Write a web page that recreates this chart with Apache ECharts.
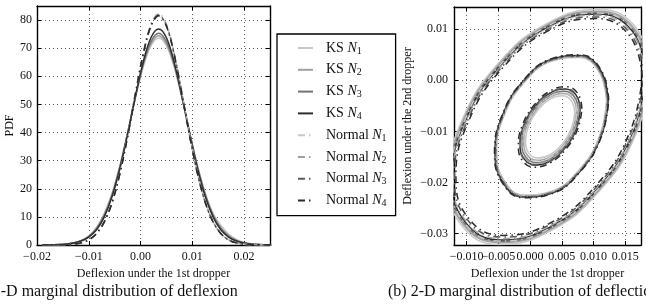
<!DOCTYPE html>
<html><head><meta charset="utf-8">
<script src="https://cdn.jsdelivr.net/npm/echarts@6/dist/echarts.min.js"></script>
<style>html,body{margin:0;padding:0;background:#fff}#c{width:646px;height:305px}</style>
</head><body><div id="c"></div>
<script>
// ---------- (a) 1-D PDF data ----------
const pdfX = [-0.019, -0.0175, -0.016, -0.0145, -0.013, -0.0115, -0.010, -0.0085, -0.007, -0.0055, -0.004, -0.0025, -0.001, 0.0005, 0.002, 0.0035, 0.005, 0.0065, 0.008, 0.0095, 0.011, 0.0125, 0.014, 0.0155, 0.017, 0.0185, 0.020, 0.0215, 0.023, 0.0245, 0.026];
const ksN1Pdf = [0, 0.05, 0.1, 0.3, 0.7, 1.6, 3.3, 6.3, 11.3, 18.5, 28.3, 39.9, 52.1, 63.2, 70.8, 73.6, 70.8, 63.2, 52.1, 39.9, 28.3, 18.5, 11.3, 7.0, 3.9, 2.0, 0.9, 0.4, 0.15, 0.05, 0];
const ksN2Pdf = [0, 0.05, 0.12, 0.3, 0.7, 1.5, 3.1, 6.0, 10.9, 18.1, 27.9, 39.8, 52.5, 63.8, 71.5, 74.4, 71.5, 63.8, 52.5, 39.8, 27.9, 18.1, 10.9, 6.2, 3.4, 1.7, 0.8, 0.35, 0.12, 0.05, 0];
const ksN3Pdf = [0, 0.05, 0.13, 0.3, 0.7, 1.45, 3.0, 5.7, 10.5, 17.7, 27.6, 39.7, 52.7, 64.3, 72.3, 75.3, 72.3, 64.3, 52.7, 39.7, 27.6, 17.7, 10.5, 5.8, 3.1, 1.5, 0.7, 0.3, 0.13, 0.05, 0];
const ksN4Pdf = [0, 0.05, 0.15, 0.3, 0.7, 1.4, 2.8, 5.4, 10.0, 17.2, 27.1, 39.5, 52.8, 65.0, 73.7, 76.8, 73.7, 65.0, 52.8, 39.5, 27.1, 17.2, 10.0, 5.4, 2.8, 1.4, 0.7, 0.3, 0.15, 0.05, 0];
const normN1Pdf = [0, 0.01, 0.03, 0.1, 0.29, 0.76, 1.86, 4.1, 8.3, 15.2, 25.5, 38.9, 54.0, 68.2, 78.5, 82.3, 78.5, 68.2, 54.0, 38.9, 25.5, 15.2, 8.3, 4.1, 1.86, 0.76, 0.29, 0.1, 0.03, 0.01, 0];
const normN2Pdf = [0, 0.01, 0.03, 0.1, 0.28, 0.76, 1.85, 4.1, 8.3, 15.2, 25.4, 38.8, 53.8, 68.0, 78.2, 82.0, 78.2, 68.0, 53.8, 38.8, 25.4, 15.2, 8.3, 4.1, 1.85, 0.76, 0.28, 0.1, 0.03, 0.01, 0];
const normN3Pdf = [0, 0.01, 0.03, 0.1, 0.28, 0.76, 1.85, 4.1, 8.3, 15.1, 25.4, 38.7, 53.7, 67.8, 78.0, 81.8, 78.0, 67.8, 53.7, 38.7, 25.4, 15.1, 8.3, 4.1, 1.85, 0.76, 0.28, 0.1, 0.03, 0.01, 0];
const normN4Pdf = [0, 0.01, 0.03, 0.1, 0.28, 0.75, 1.8, 4.1, 8.2, 15.1, 25.3, 38.5, 53.5, 67.6, 77.8, 81.5, 77.8, 67.6, 53.5, 38.5, 25.3, 15.1, 8.2, 4.1, 1.8, 0.75, 0.28, 0.1, 0.03, 0.01, 0];

// ---------- (b) 2-D contour data (x = 1st dropper, y = 2nd dropper) ----------
const ksN1OuterX = [0.01891, 0.01678, 0.01096, 0.00300, -0.00496, -0.01078, -0.01291, -0.01078, -0.00496, 0.00300, 0.01096, 0.01678];
const ksN1OuterY = [0.00132, 0.01014, 0.01380, 0.01131, 0.00334, -0.00799, -0.01960, -0.02842, -0.03208, -0.02959, -0.02162, -0.01029];
const ksN2OuterX = [0.01868, 0.01658, 0.01084, 0.00300, -0.00484, -0.01058, -0.01268, -0.01058, -0.00484, 0.00300, 0.01084, 0.01658];
const ksN2OuterY = [0.00117, 0.00986, 0.01347, 0.01101, 0.00316, -0.00800, -0.01945, -0.02814, -0.03175, -0.02929, -0.02144, -0.01028];
const ksN3OuterX = [0.01848, 0.01641, 0.01074, 0.00300, -0.00474, -0.01041, -0.01248, -0.01041, -0.00474, 0.00300, 0.01074, 0.01641];
const ksN3OuterY = [0.00104, 0.00962, 0.01318, 0.01076, 0.00300, -0.00802, -0.01932, -0.02790, -0.03146, -0.02904, -0.02128, -0.01026];
const ksN4OuterX = [0.01830, 0.01625, 0.01065, 0.00300, -0.00465, -0.01025, -0.01230, -0.01025, -0.00465, 0.00300, 0.01065, 0.01625];
const ksN4OuterY = [0.00092, 0.00940, 0.01292, 0.01052, 0.00286, -0.00803, -0.01920, -0.02768, -0.03120, -0.02880, -0.02114, -0.01025];
const normN1OuterX = [0.01845, 0.01638, 0.01073, 0.00300, -0.00473, -0.01038, -0.01245, -0.01038, -0.00473, 0.00300, 0.01073, 0.01638];
const normN1OuterY = [0.00102, 0.00959, 0.01314, 0.01072, 0.00298, -0.00802, -0.01930, -0.02787, -0.03142, -0.02900, -0.02126, -0.01026];
const normN2OuterX = [0.01815, 0.01612, 0.01057, 0.00300, -0.00457, -0.01012, -0.01215, -0.01012, -0.00457, 0.00300, 0.01057, 0.01612];
const normN2OuterY = [0.00082, 0.00921, 0.01270, 0.01032, 0.00274, -0.00804, -0.01910, -0.02749, -0.03098, -0.02860, -0.02102, -0.01024];
const normN3OuterX = [0.01792, 0.01592, 0.01046, 0.00300, -0.00446, -0.00992, -0.01192, -0.00992, -0.00446, 0.00300, 0.01046, 0.01592];
const normN3OuterY = [0.00067, 0.00894, 0.01237, 0.01003, 0.00256, -0.00806, -0.01895, -0.02722, -0.03065, -0.02831, -0.02084, -0.01022];
const normN4OuterX = [0.01769, 0.01572, 0.01034, 0.00300, -0.00434, -0.00972, -0.01169, -0.00972, -0.00434, 0.00300, 0.01034, 0.01572];
const normN4OuterY = [0.00052, 0.00866, 0.01204, 0.00973, 0.00238, -0.00807, -0.01880, -0.02694, -0.03032, -0.02801, -0.02066, -0.01021];

const ksN1MidX = [0.01205, 0.01090, 0.00773, 0.00340, -0.00093, -0.00410, -0.00525, -0.00410, -0.00093, 0.00340, 0.00773, 0.01090];
const ksN1MidY = [-0.00414, 0.00157, 0.00443, 0.00369, -0.00044, -0.00687, -0.01386, -0.01957, -0.02243, -0.02169, -0.01756, -0.01113];
const ksN2MidX = [0.01214, 0.01097, 0.00778, 0.00340, -0.00098, -0.00417, -0.00534, -0.00417, -0.00098, 0.00340, 0.00778, 0.01097];
const ksN2MidY = [-0.00409, 0.00168, 0.00456, 0.00382, -0.00036, -0.00685, -0.01391, -0.01968, -0.02256, -0.02182, -0.01764, -0.01115];
const ksN3MidX = [0.01223, 0.01105, 0.00782, 0.00340, -0.00102, -0.00425, -0.00543, -0.00425, -0.00102, 0.00340, 0.00782, 0.01105];
const ksN3MidY = [-0.00404, 0.00179, 0.00470, 0.00395, -0.00027, -0.00683, -0.01396, -0.01979, -0.02270, -0.02195, -0.01773, -0.01117];
const ksN4MidX = [0.01232, 0.01113, 0.00786, 0.00340, -0.00106, -0.00433, -0.00552, -0.00433, -0.00106, 0.00340, 0.00786, 0.01113];
const ksN4MidY = [-0.00399, 0.00190, 0.00484, 0.00408, -0.00018, -0.00681, -0.01401, -0.01990, -0.02284, -0.02208, -0.01782, -0.01119];
const normN1MidX = [0.01210, 0.01094, 0.00775, 0.00340, -0.00095, -0.00414, -0.00530, -0.00414, -0.00095, 0.00340, 0.00775, 0.01094];
const normN1MidY = [-0.00411, 0.00163, 0.00449, 0.00376, -0.00040, -0.00686, -0.01389, -0.01963, -0.02249, -0.02176, -0.01760, -0.01114];
const normN2MidX = [0.01219, 0.01101, 0.00780, 0.00340, -0.00100, -0.00421, -0.00539, -0.00421, -0.00100, 0.00340, 0.00780, 0.01101];
const normN2MidY = [-0.00406, 0.00174, 0.00463, 0.00389, -0.00031, -0.00684, -0.01394, -0.01974, -0.02263, -0.02189, -0.01769, -0.01116];
const normN3MidX = [0.01227, 0.01109, 0.00784, 0.00340, -0.00104, -0.00429, -0.00547, -0.00429, -0.00104, 0.00340, 0.00784, 0.01109];
const normN3MidY = [-0.00402, 0.00184, 0.00477, 0.00401, -0.00023, -0.00682, -0.01398, -0.01984, -0.02277, -0.02201, -0.01777, -0.01118];
const normN4MidX = [0.01241, 0.01120, 0.00791, 0.00340, -0.00111, -0.00440, -0.00561, -0.00440, -0.00111, 0.00340, 0.00791, 0.01120];
const normN4MidY = [-0.00394, 0.00201, 0.00497, 0.00421, -0.00010, -0.00679, -0.01406, -0.02001, -0.02297, -0.02221, -0.01790, -0.01121];

const ksN1InnerX = [0.00704, 0.00652, 0.00510, 0.00316, 0.00122, -0.00020, -0.00072, -0.00020, 0.00122, 0.00316, 0.00510, 0.00652];
const ksN1InnerY = [-0.00637, -0.00403, -0.00306, -0.00371, -0.00583, -0.00882, -0.01191, -0.01425, -0.01522, -0.01457, -0.01245, -0.00946];
const ksN2InnerX = [0.00732, 0.00677, 0.00525, 0.00316, 0.00107, -0.00045, -0.00100, -0.00045, 0.00107, 0.00316, 0.00525, 0.00677];
const ksN2InnerY = [-0.00617, -0.00366, -0.00262, -0.00331, -0.00558, -0.00880, -0.01211, -0.01462, -0.01566, -0.01497, -0.01270, -0.00948];
const ksN3InnerX = [0.00761, 0.00701, 0.00539, 0.00316, 0.00093, -0.00069, -0.00129, -0.00069, 0.00093, 0.00316, 0.00539, 0.00701];
const ksN3InnerY = [-0.00596, -0.00328, -0.00217, -0.00292, -0.00534, -0.00877, -0.01232, -0.01500, -0.01611, -0.01536, -0.01294, -0.00951];
const ksN4InnerX = [0.00789, 0.00726, 0.00553, 0.00316, 0.00079, -0.00094, -0.00157, -0.00094, 0.00079, 0.00316, 0.00553, 0.00726];
const ksN4InnerY = [-0.00576, -0.00291, -0.00173, -0.00252, -0.00510, -0.00875, -0.01252, -0.01537, -0.01655, -0.01576, -0.01318, -0.00953];
const normN1InnerX = [0.00742, 0.00685, 0.00529, 0.00316, 0.00103, -0.00053, -0.00110, -0.00053, 0.00103, 0.00316, 0.00529, 0.00685];
const normN1InnerY = [-0.00610, -0.00353, -0.00247, -0.00318, -0.00550, -0.00879, -0.01218, -0.01475, -0.01581, -0.01510, -0.01278, -0.00949];
const normN2InnerX = [0.00770, 0.00710, 0.00544, 0.00316, 0.00088, -0.00078, -0.00138, -0.00078, 0.00088, 0.00316, 0.00544, 0.00710];
const normN2InnerY = [-0.00590, -0.00316, -0.00203, -0.00278, -0.00526, -0.00877, -0.01238, -0.01512, -0.01625, -0.01550, -0.01302, -0.00951];
const normN3InnerX = [0.00794, 0.00730, 0.00555, 0.00316, 0.00077, -0.00098, -0.00162, -0.00098, 0.00077, 0.00316, 0.00555, 0.00730];
const normN3InnerY = [-0.00573, -0.00285, -0.00166, -0.00245, -0.00506, -0.00875, -0.01255, -0.01543, -0.01662, -0.01583, -0.01322, -0.00953];
const normN4InnerX = [0.00817, 0.00751, 0.00567, 0.00316, 0.00065, -0.00119, -0.00185, -0.00119, 0.00065, 0.00316, 0.00567, 0.00751];
const normN4InnerY = [-0.00556, -0.00254, -0.00129, -0.00212, -0.00486, -0.00873, -0.01272, -0.01574, -0.01699, -0.01616, -0.01342, -0.00955];

// ---------- labels ----------
const seriesNames = ['KS N1', 'KS N2', 'KS N3', 'KS N4', 'Normal N1', 'Normal N2', 'Normal N3', 'Normal N4'];
const xTitle = 'Deflexion under the 1st dropper';
const yTitleA = 'PDF';
const yTitleB = 'Deflexion under the 2nd dropper';
const captionA = '(a) 1-D marginal distribution of deflexion';
const captionB = '(b) 2-D marginal distribution of deflection';

// ---------- styles ----------
const FONT = '"Liberation Serif", "Times New Roman", serif';
const colors = ['#c8c8c8', '#a0a0a0', '#737373', '#2e2e2e', '#c8c8c8', '#a0a0a0', '#5a5a5a', '#2a2a2a'];
const dashes = ['solid', 'solid', 'solid', 'solid', [7, 4, 1.5, 4], [7, 4, 1.5, 4], [7, 4, 1.5, 4], [7, 4, 1.5, 4]];

const pdfData = [ksN1Pdf, ksN2Pdf, ksN3Pdf, ksN4Pdf, normN1Pdf, normN2Pdf, normN3Pdf, normN4Pdf];
const contourData = [
  [[ksN1OuterX, ksN1OuterY], [ksN1MidX, ksN1MidY], [ksN1InnerX, ksN1InnerY]],
  [[ksN2OuterX, ksN2OuterY], [ksN2MidX, ksN2MidY], [ksN2InnerX, ksN2InnerY]],
  [[ksN3OuterX, ksN3OuterY], [ksN3MidX, ksN3MidY], [ksN3InnerX, ksN3InnerY]],
  [[ksN4OuterX, ksN4OuterY], [ksN4MidX, ksN4MidY], [ksN4InnerX, ksN4InnerY]],
  [[normN1OuterX, normN1OuterY], [normN1MidX, normN1MidY], [normN1InnerX, normN1InnerY]],
  [[normN2OuterX, normN2OuterY], [normN2MidX, normN2MidY], [normN2InnerX, normN2InnerY]],
  [[normN3OuterX, normN3OuterY], [normN3MidX, normN3MidY], [normN3InnerX, normN3InnerY]],
  [[normN4OuterX, normN4OuterY], [normN4MidX, normN4MidY], [normN4InnerX, normN4InnerY]]
];

function fmt(d) {
  return function (v) {
    let s = Math.abs(v) < 1e-12 ? (0).toFixed(d) : v.toFixed(d);
    return s.replace('-', '\u2212');
  };
}
const txt = { fontFamily: FONT, fontSize: 12, color: '#111' };
const spine = { show: true, onZero: false, lineStyle: { color: '#000', width: 1.4 } };
const tick = { show: true, inside: true, length: 4, lineStyle: { color: '#000', width: 1 } };
const grid = { show: true, lineStyle: { color: '#333', width: 0.8, type: [1, 3] } };

function mainAxis(extra) {
  return Object.assign({
    type: 'value', axisLine: spine, axisTick: tick, splitLine: grid,
    nameLocation: 'middle', nameTextStyle: txt
  }, extra);
}
function sideAxis(extra) {
  return Object.assign({
    type: 'value', axisLine: spine, axisTick: tick, splitLine: { show: false }, axisLabel: { show: false }
  }, extra);
}

const series = [];
seriesNames.forEach((nm, i) => {
  series.push({
    name: nm, type: 'line', xAxisIndex: 0, yAxisIndex: 0, symbol: 'none', smooth: 0.35, clip: true,
    lineStyle: { color: colors[i], width: 1.5, type: dashes[i] }, itemStyle: { color: colors[i] },
    data: pdfX.map((x, k) => [x, pdfData[i][k]]), z: i < 4 ? 3 : 4
  });
});
seriesNames.forEach((nm, i) => {
  contourData[i].forEach(([xs, ys]) => {
    const pts = xs.map((x, k) => [x, ys[k]]);
    pts.push(pts[0]);
    series.push({
      name: nm, type: 'line', xAxisIndex: 2, yAxisIndex: 2, symbol: 'none', smooth: 0.45, clip: true,
      lineStyle: { color: colors[i], width: 1.5, type: dashes[i] }, itemStyle: { color: colors[i] },
      data: pts, z: i < 4 ? 3 : 4
    });
  });
});

const option = {
  animation: false,
  backgroundColor: '#fff',
  textStyle: { fontFamily: FONT },
  grid: [
    { left: 37, top: 6, width: 233, height: 239 },
    { left: 454, top: 7, width: 187, height: 238 }
  ],
  xAxis: [
    mainAxis({ gridIndex: 0, min: -0.02, max: 0.025, interval: 0.01, name: xTitle, nameGap: 22,
      axisLabel: Object.assign({ showMinLabel: true, showMaxLabel: false, margin: 6, formatter: fmt(2) }, txt) }),
    sideAxis({ gridIndex: 0, position: 'top', min: -0.02, max: 0.025, interval: 0.01 }),
    mainAxis({ gridIndex: 1, min: -0.012, max: 0.0175, splitNumber: 6, name: xTitle, nameGap: 22,
      axisLabel: Object.assign({ showMinLabel: false, showMaxLabel: false, hideOverlap: false, margin: 6, formatter: fmt(3) }, txt) }),
    sideAxis({ gridIndex: 1, position: 'top', min: -0.012, max: 0.0175, splitNumber: 6 })
  ],
  yAxis: [
    mainAxis({ gridIndex: 0, min: 0, max: 85, interval: 10, name: yTitleA, nameGap: 21,
      axisLabel: Object.assign({ showMinLabel: true, showMaxLabel: false, margin: 5, formatter: v => String(Math.round(v)) }, txt) }),
    sideAxis({ gridIndex: 0, position: 'right', min: 0, max: 85, interval: 10 }),
    mainAxis({ gridIndex: 1, min: -0.0322, max: 0.0143, splitNumber: 5, name: yTitleB, nameGap: 40,
      axisLabel: Object.assign({ showMinLabel: false, showMaxLabel: false, margin: 6, formatter: fmt(2) }, txt) }),
    sideAxis({ gridIndex: 1, position: 'right', min: -0.0322, max: 0.0143, splitNumber: 5 })
  ],
  legend: {
    data: seriesNames, orient: 'vertical', left: 277, top: 34,
    padding: [7, 9, 7, 20], itemWidth: 15, itemHeight: 14, itemGap: 6.8,
    backgroundColor: '#fff', borderColor: '#000', borderWidth: 1.3, borderRadius: 0,
    selectedMode: false,
    itemStyle: { opacity: 0 },
    formatter: nm => '{g| }' + nm.replace(/N(\d)/, '{i|N}{s|$1}'),
    textStyle: {
      fontFamily: FONT, fontSize: 14, color: '#111',
      rich: {
        g: { width: 8, fontSize: 14, lineHeight: 16 },
        i: { fontFamily: FONT, fontStyle: 'italic', fontSize: 14, lineHeight: 16 },
        s: { fontFamily: FONT, fontSize: 10, lineHeight: 9, verticalAlign: 'bottom' }
      }
    }
  },
  graphic: [
    { type: 'text', left: -29, top: 284, style: { text: captionA, font: '16px "Liberation Serif"', fill: '#111' } },
    { type: 'text', left: 388, top: 284, style: { text: captionB, font: '16px "Liberation Serif"', fill: '#111' } }
  ],
  series: series
};
const chart = echarts.init(document.getElementById('c'), null, { renderer: 'canvas' });
chart.setOption(option);
</script></body></html>
